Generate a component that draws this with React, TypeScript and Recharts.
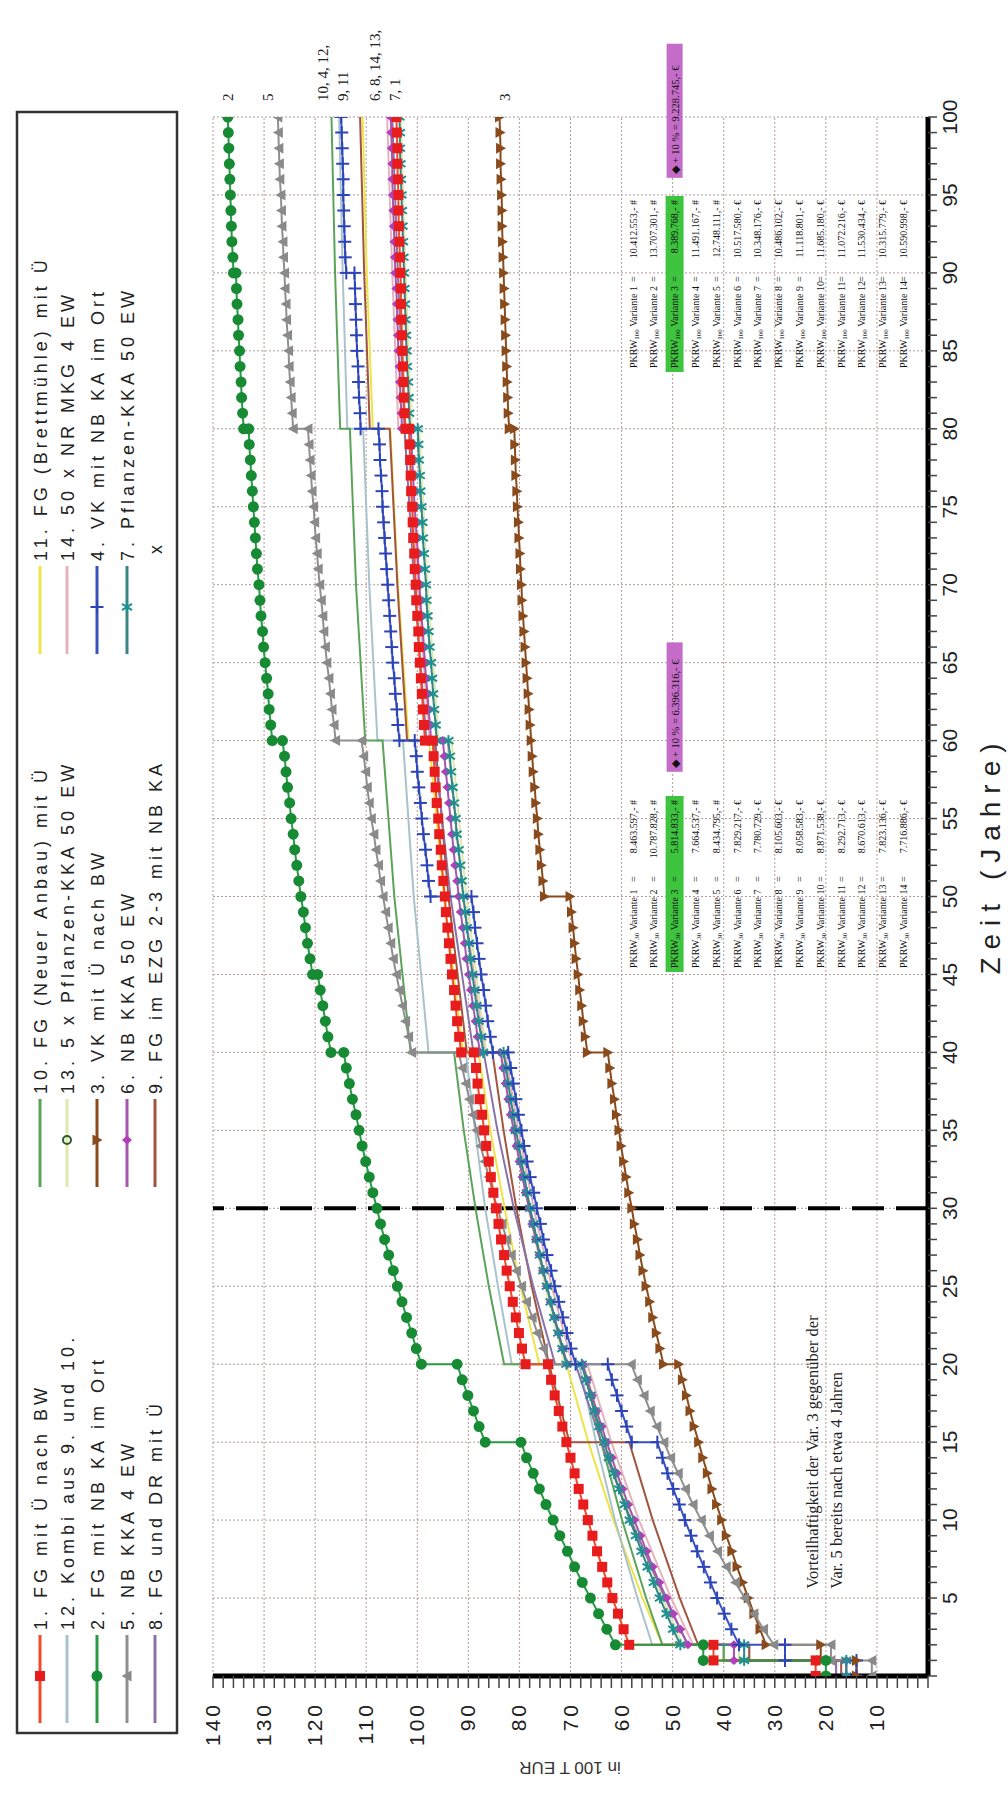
import React from 'react'
import { LineChart, Line, XAxis, YAxis, CartesianGrid, ReferenceLine } from 'recharts'

// chart is laid out landscape and turned by -90deg into the portrait page
const W = 1798
const H = 1008
const PLOT_L = 122
const PLOT_R = 1681
const PLOT_T = 213
const PLOT_B = 928

const YEAR_TICKS = Array.from({ length: 101 }, (_, i) => i)
const VALUE_TICKS = Array.from({ length: 71 }, (_, i) => i * 2)

type Pt = [number, number]
type Yearly = (number | [number, number])[]

// cumulative costs in 100 T EUR
// yearly lists: index = year, a pair = value before / after a reinvestment step in that year
const y1: Yearly = [22, [22, 42], [42, 58.5], 59.6, 60.7, 61.8, 62.8, 63.8, 64.8, 65.7, 66.6, 67.5, 68.4, 69.2, 70.0, 70.8, 71.6, 72.3, 73.1, 73.8, [74.4, 78.8], 79.5, 80.1, 80.7, 81.3, 81.9, 82.5, 83.0, 83.6, 84.1, 84.6, 85.1, 85.6, 86.0, 86.5, 86.9, 87.3, 87.8, 88.2, 88.5, [88.9, 91.4], 91.8, 92.2, 92.5, 92.8, 93.2, 93.5, 93.8, 94.1, 94.4, 94.6, 94.9, 95.2, 95.4, 95.7, 95.9, 96.2, 96.4, 96.6, 96.8, [97.0, 98.5], 98.7, 98.9, 99.1, 99.3, 99.5, 99.7, 99.8, 100.0, 100.2, 100.3, 100.5, 100.6, 100.8, 100.9, 101.0, 101.2, 101.3, 101.4, 101.5, [101.6, 102.3], 102.5, 102.6, 102.7, 102.8, 102.9, 103.0, 103.1, 103.2, 103.2, 103.3, 103.4, 103.5, 103.6, 103.7, 103.7, 103.8, 103.9, 103.9, 104.0, 104.1]
const y2: Yearly = [20, [20, 44], [44, 61.2], 62.9, 64.5, 66.1, 67.7, 69.2, 70.6, 72.1, 73.4, 74.8, 76.1, 77.3, 78.6, [79.7, 86.7], 87.9, 89.0, 90.1, 91.2, [92.2, 99.2], 100.2, 101.1, 102.1, 103.0, 103.9, 104.7, 105.6, 106.4, 107.2, 107.9, 108.7, 109.4, 110.1, 110.8, 111.4, 112.0, 112.7, 113.3, 113.9, [114.4, 116.9], 117.5, 118.0, 118.5, 119.0, [119.5, 120.5], 121.0, 121.5, 121.9, 122.3, 122.8, 123.2, 123.6, 124.0, 124.3, 124.7, 125.0, 125.4, 125.7, 126.0, [126.4, 128.4], 128.7, 129.0, 129.2, 129.5, 129.8, 130.1, 130.3, 130.6, 130.8, 131.0, 131.3, 131.5, 131.7, 131.9, 132.1, 132.3, 132.5, 132.7, 132.9, [133.0, 134.0], 134.2, 134.4, 134.5, 134.7, 134.8, 135.0, 135.1, 135.3, 135.4, [135.5, 136.0], 136.1, 136.3, 136.4, 136.5, 136.6, 136.7, 136.8, 136.9, 137.0, 137.1]
const y3: Yearly = [14, [14, 21], [21, 31.7], 32.9, 34.1, 35.2, 36.3, 37.4, 38.4, 39.5, 40.4, 41.4, 42.3, 43.2, 44.1, 44.9, 45.8, 46.6, 47.3, 48.1, [48.8, 51.8], 52.5, 53.2, 53.9, 54.5, 55.2, 55.8, 56.4, 56.9, 57.5, 58.0, 58.6, 59.1, 59.6, 60.1, 60.5, 61.0, 61.4, 61.9, 62.3, [62.7, 66.7], 67.1, 67.5, 67.8, 68.2, 68.5, 68.9, 69.2, 69.5, 69.8, [70.1, 75.1], 75.4, 75.7, 76.0, 76.3, 76.5, 76.8, 77.0, 77.3, 77.5, 77.7, 77.9, 78.1, 78.3, 78.5, 78.7, 78.9, 79.1, 79.3, 79.5, 79.6, 79.8, 79.9, 80.1, 80.2, 80.4, 80.5, 80.7, 80.8, 80.9, [81.0, 82.0], 82.2, 82.3, 82.4, 82.5, 82.6, 82.7, 82.8, 82.9, 83.0, 83.1, 83.2, 83.3, 83.4, 83.4, 83.5, 83.6, 83.7, 83.7, 83.8, 83.9]
const y4: Yearly = [14, [14, 28], [28, 37], 38.5, 39.9, 41.3, 42.6, 43.9, 45.2, 46.4, 47.6, 48.7, 49.9, 51.0, 52.0, [53.0, 58.0], 59.0, 60.0, 60.9, 61.9, [62.7, 69.0], 69.9, 70.7, 71.5, 72.3, 73.1, 73.8, 74.6, 75.3, 75.9, 76.6, 77.2, 77.9, 78.5, 79.1, 79.6, 80.2, 80.7, 81.2, 81.7, [82.2, 85.2], 85.7, 86.2, 86.6, 87.0, 87.5, 87.9, 88.3, 88.7, 89.0, [89.4, 97.4], 97.8, 98.1, 98.4, 98.8, 99.1, 99.4, 99.7, 100.0, 100.2, [100.5, 103.5], 103.8, 104.0, 104.3, 104.5, 104.8, 105.0, 105.2, 105.4, 105.6, 105.8, 106.0, 106.2, 106.4, 106.6, 106.8, 106.9, 107.1, 107.3, 107.4, [107.6, 111.1], 111.2, 111.4, 111.5, 111.6, 111.8, 111.9, 112.0, 112.1, 112.2, [112.3, 113.9], 114.1, 114.2, 114.3, 114.4, 114.5, 114.5, 114.6, 114.7, 114.8, 114.9]
const y5: Yearly = [11, [11, 19], [19, 30.2], 32.2, 34.1, 35.9, 37.7, 39.5, 41.2, 42.8, 44.4, 46.0, 47.5, 48.9, 50.4, 51.7, 53.1, 54.4, 55.6, 56.9, [58.1, 74.2], 75.3, 76.5, 77.5, 78.6, 79.6, 80.6, 81.6, 82.5, 83.4, 84.3, 85.2, 86.0, 86.8, 87.6, 88.4, 89.1, 89.8, 90.5, 91.2, [91.9, 101.1], 101.7, 102.3, 102.9, 103.5, 104.1, 104.7, 105.2, 105.7, 106.2, 106.7, 107.2, 107.6, 108.1, 108.5, 109.0, 109.4, 109.8, 110.1, 110.5, [110.9, 116.0], 116.3, 116.7, 117.0, 117.3, 117.7, 118.0, 118.3, 118.5, 118.8, 119.1, 119.4, 119.6, 119.9, 120.1, 120.3, 120.6, 120.8, 121.0, 121.2, [121.4, 124.3], 124.5, 124.7, 124.9, 125.1, 125.2, 125.4, 125.6, 125.7, 125.9, 126.0, 126.2, 126.3, 126.5, 126.6, 126.7, 126.9, 127.0, 127.1, 127.2, 127.3]
const y6: Yearly = [16, [16, 38], [38, 47], 48.5, 49.9, 51.2, 52.6, 53.9, 55.1, 56.3, 57.5, 58.7, 59.8, 60.9, 61.9, 62.9, 63.9, 64.9, 65.8, 66.7, [67.6, 70.6], 71.5, 72.3, 73.1, 73.9, 74.6, 75.4, 76.1, 76.8, 77.5, 78.1, 78.8, 79.4, 80.0, 80.6, 81.1, 81.7, 82.2, 82.7, 83.2, [83.7, 87.7], 88.2, 88.6, 89.1, 89.5, 89.9, 90.4, 90.7, 91.1, 91.5, 91.9, 92.2, 92.6, 92.9, 93.2, 93.5, 93.8, 94.1, 94.4, 94.7, [95.0, 97.3], 97.5, 97.8, 98.0, 98.3, 98.5, 98.7, 98.9, 99.2, 99.4, 99.6, 99.8, 99.9, 100.1, 100.3, 100.5, 100.7, 100.8, 101.0, 101.1, [101.3, 103.0], 103.1, 103.3, 103.4, 103.5, 103.7, 103.8, 103.9, 104.0, 104.1, 104.3, 104.4, 104.5, 104.6, 104.7, 104.8, 104.9, 104.9, 105.0, 105.1, 105.2]
const y7: Yearly = [16, [16, 36], [36, 48.5], 49.9, 51.2, 52.5, 53.7, 54.9, 56.1, 57.2, 58.4, 59.4, 60.5, 61.5, 62.5, 63.4, 64.4, 65.3, 66.1, 67.0, [67.8, 70.8], 71.6, 72.4, 73.2, 73.9, 74.6, 75.3, 76.0, 76.6, 77.2, 77.9, 78.5, 79.0, 79.6, 80.1, 80.7, 81.2, 81.7, 82.2, 82.6, [83.1, 87.1], 87.5, 88.0, 88.4, 88.8, 89.2, 89.6, 89.9, 90.3, 90.6, 91.0, 91.3, 91.6, 91.9, 92.3, 92.5, 92.8, 93.1, 93.4, 93.6, [93.9, 96.2], 96.4, 96.7, 96.9, 97.1, 97.3, 97.6, 97.8, 98.0, 98.2, 98.3, 98.5, 98.7, 98.9, 99.0, 99.2, 99.4, 99.5, 99.7, 99.8, [99.9, 101.4], 101.6, 101.7, 101.8, 102.0, 102.1, 102.2, 102.3, 102.4, 102.5, 102.6, 102.7, 102.8, 102.9, 103.0, 103.1, 103.2, 103.3, 103.4, 103.4, 103.5]

// plain lines: [year, value], two entries on one year = step
const s8: Pt[] = [[0, 18], [1, 18], [1, 38], [2, 38], [2, 47], [5, 51.5], [10, 58.2], [15, 64.0], [20, 69.0], [20, 73.0], [25, 77.3], [30, 81.1], [35, 84.3], [40, 87.0], [40, 89.0], [50, 93.5], [60, 96.8], [60, 98.2], [70, 100.6], [80, 102.5], [90, 103.8], [100, 104.9]]
const s9: Pt[] = [[0, 17], [1, 17], [1, 35], [2, 35], [2, 45], [5, 48.6], [10, 53.9], [15, 58.5], [15, 70.2], [20, 74.2], [25, 77.6], [30, 80.6], [35, 83.1], [40, 85.3], [40, 90.3], [50, 93.9], [60, 96.5], [60, 102.0], [70, 103.9], [80, 105.4], [80, 109.3], [90, 110.4], [100, 111.2]]
const s10: Pt[] = [[0, 18], [1, 18], [1, 40], [2, 40], [2, 52], [5, 55.2], [10, 59.9], [15, 64.0], [20, 67.6], [20, 83.0], [25, 86.0], [30, 88.6], [35, 90.9], [40, 92.8], [40, 101.3], [50, 104.5], [60, 106.8], [60, 110.2], [70, 112.0], [80, 113.2], [80, 115.1], [90, 116.1], [100, 116.8]]
const s11: Pt[] = [[0, 18], [1, 18], [1, 40], [2, 40], [2, 52], [5, 55.9], [10, 61.6], [15, 66.5], [20, 70.8], [20, 76.1], [25, 79.8], [30, 82.9], [35, 85.7], [40, 88.0], [40, 91.0], [50, 94.8], [60, 97.7], [60, 101.7], [70, 103.8], [80, 105.3], [80, 108.7], [90, 109.9], [100, 110.7]]
const s12: Pt[] = [[0, 18], [1, 18], [1, 40], [2, 40], [2, 54], [5, 56.9], [10, 61.3], [15, 65.0], [20, 68.3], [20, 81.5], [25, 84.2], [30, 86.7], [35, 88.7], [40, 90.5], [40, 97.8], [50, 100.7], [60, 102.8], [60, 107.8], [70, 109.4], [80, 110.6], [80, 113.7], [90, 114.6], [100, 115.3]]
const s13: Pt[] = [[0, 16], [1, 16], [1, 37], [2, 37], [2, 48], [5, 52.0], [10, 57.9], [15, 63.0], [20, 67.4], [20, 71.1], [25, 75.0], [30, 78.2], [35, 81.1], [40, 83.5], [40, 86.5], [50, 90.4], [60, 93.3], [60, 95.8], [70, 98.0], [80, 99.6], [80, 101.1], [90, 102.3], [100, 103.2]]
const s14: Pt[] = [[0, 16], [1, 16], [1, 35], [2, 35], [2, 46], [5, 50.3], [10, 56.6], [15, 62.0], [20, 66.7], [20, 69.6], [25, 73.7], [30, 77.2], [35, 80.2], [40, 82.8], [40, 86.8], [50, 91.0], [60, 94.1], [60, 97.6], [70, 99.9], [80, 101.7], [80, 103.7], [90, 104.9], [100, 105.9]]

const pkrw30 = ['8.463.597', '10.787.828', '5.814.833', '7.664.537', '8.434.795', '7.829.217', '7.780.729', '8.105.603', '8.058.583', '8.871.538', '8.292.713', '8.670.613', '7.823.136', '7.716.886']
const pkrw100 = ['10.412.553', '13.707.301', '8.389.768', '11.491.167', '12.748.111', '10.517.580', '10.348.176', '10.486.102', '11.118.801', '11.685.180', '11.072.216', '11.530.434', '10.315.779', '10.590.998']
const plus30 = '6.396.316'
const plus100 = '9.228.745'

const endLabels = ['2', '5', '10, 4, 12,', '9, 11', '6, 8, 14, 13,', '7, 1', '3']
const endLabelValues = [137.1, 129.2, 118.4, 114.5, 108.3, 104.4, 82.8]

const fromYearly = (vals: Yearly): Pt[] =>
  vals.flatMap((v, year) => (Array.isArray(v) ? ([[year, v[0]], [year, v[1]]] as Pt[]) : ([[year, v]] as Pt[])))

type Marker = 'square' | 'circle' | 'triUp' | 'triDown' | 'diamond' | 'plus' | 'star' | 'ring' | 'none'

interface Series {
  key: string
  label: string
  color: string
  markColor?: string
  width: number
  marker: Marker
  plotMarks: boolean
  data: Pt[]
}

const series: Series[] = [
  { key: 's1', label: '1. FG mit Ü nach BW', color: '#ee4a2a', markColor: '#e81c1c', width: 2, marker: 'square', plotMarks: true, data: fromYearly(y1) },
  { key: 's12', label: '12. Kombi aus 9. und 10.', color: '#a9c3cc', width: 2, marker: 'none', plotMarks: false, data: s12 },
  { key: 's2', label: '2. FG mit NB KA im Ort', color: '#2a9a44', markColor: '#178a34', width: 2, marker: 'circle', plotMarks: true, data: fromYearly(y2) },
  { key: 's5', label: '5. NB KKA 4 EW', color: '#8f8f8f', markColor: '#8a8a8a', width: 2, marker: 'triUp', plotMarks: true, data: fromYearly(y5) },
  { key: 's8', label: '8. FG und DR mit Ü', color: '#8a72a8', width: 2, marker: 'none', plotMarks: false, data: s8 },
  { key: 's10', label: '10. FG (Neuer Anbau) mit Ü', color: '#5ba35b', width: 2, marker: 'none', plotMarks: false, data: s10 },
  { key: 's13', label: '13. 5 x Pflanzen-KKA 50 EW', color: '#dfe9b0', markColor: '#2b5a2b', width: 2, marker: 'ring', plotMarks: false, data: s13 },
  { key: 's3', label: '3. VK mit Ü nach BW', color: '#8a4b1c', markColor: '#8a4b1c', width: 2, marker: 'triDown', plotMarks: true, data: fromYearly(y3) },
  { key: 's6', label: '6. NB KKA 50 EW', color: '#a855b0', markColor: '#b040b8', width: 2, marker: 'diamond', plotMarks: true, data: fromYearly(y6) },
  { key: 's9', label: '9. FG im EZG 2-3 mit NB KA', color: '#a0553e', width: 2, marker: 'none', plotMarks: false, data: s9 },
  { key: 's11', label: '11. FG (Brettmühle) mit Ü', color: '#eee44a', width: 2, marker: 'none', plotMarks: false, data: s11 },
  { key: 's14', label: '14. 50 x NR MKG 4 EW', color: '#e6b2bd', width: 2, marker: 'none', plotMarks: false, data: s14 },
  { key: 's4', label: '4. VK mit NB KA im Ort', color: '#3a52c0', markColor: '#2c44b8', width: 2, marker: 'plus', plotMarks: true, data: fromYearly(y4) },
  { key: 's7', label: '7. Pflanzen-KKA 50 EW', color: '#3a8484', markColor: '#1f9090', width: 2, marker: 'star', plotMarks: true, data: fromYearly(y7) },
]

// plain lines first, marked series on top
const drawOrder = ['s13', 's14', 's11', 's12', 's10', 's9', 's8', 's6', 's7', 's4', 's3', 's5', 's1', 's2']

const toRows = (pts: Pt[]) => pts.map(([x, y]) => ({ x, y }))

function MarkShape({ kind, cx, cy, color }: { kind: Marker; cx: number; cy: number; color: string }) {
  switch (kind) {
    case 'square':
      return <rect x={cx - 5} y={cy - 5} width={10} height={10} fill={color} />
    case 'circle':
      return <circle cx={cx} cy={cy} r={5.5} fill={color} />
    case 'ring':
      return <circle cx={cx} cy={cy} r={4} fill="none" stroke={color} strokeWidth={2} />
    case 'triUp':
      return <path d={`M${cx},${cy - 5.5} L${cx + 5.5},${cy + 4.5} L${cx - 5.5},${cy + 4.5}Z`} fill={color} />
    case 'triDown':
      return <path d={`M${cx},${cy + 5.5} L${cx + 5.5},${cy - 4.5} L${cx - 5.5},${cy - 4.5}Z`} fill={color} />
    case 'diamond':
      return <path d={`M${cx},${cy - 5} L${cx + 4.5},${cy} L${cx},${cy + 5} L${cx - 4.5},${cy}Z`} fill={color} />
    case 'plus':
      return (
        <g stroke={color} strokeWidth={2}>
          <line x1={cx - 6.5} y1={cy} x2={cx + 6.5} y2={cy} />
          <line x1={cx} y1={cy - 6.5} x2={cx} y2={cy + 6.5} />
        </g>
      )
    case 'star':
      return (
        <g stroke={color} strokeWidth={2}>
          <line x1={cx - 5.5} y1={cy} x2={cx + 5.5} y2={cy} />
          <line x1={cx - 3.2} y1={cy - 5} x2={cx + 3.2} y2={cy + 5} />
          <line x1={cx - 3.2} y1={cy + 5} x2={cx + 3.2} y2={cy - 5} />
        </g>
      )
    default:
      return null
  }
}

const dotFor = (s: Series) =>
  !s.plotMarks
    ? false
    : (p: any) => <MarkShape key={`${s.key}-${p.index}`} kind={s.marker} cx={p.cx} cy={p.cy} color={s.markColor || s.color} />

const YearTick = (p: any) => {
  const v = p.payload.value
  if (v === 0 || v % 5 !== 0) return <g />
  return (
    <text x={p.x} y={p.y} dy={8} textAnchor="middle" fontSize={21} fill="#222" fontFamily="'Liberation Sans', Arial, sans-serif">
      {v}
    </text>
  )
}

const ValueTick = (p: any) => {
  const v = p.payload.value
  if (v === 0 || v % 10 !== 0) return <g />
  return (
    <text x={p.x} y={p.y} dy={7} textAnchor="end" fontSize={21} letterSpacing={3} fill="#222" fontFamily="'Liberation Sans', Arial, sans-serif">
      {v}
    </text>
  )
}

const px = (year: number) => PLOT_L + (year / 100) * (PLOT_R - PLOT_L)
const py = (value: number) => PLOT_B - (value / 140) * (PLOT_B - PLOT_T)

const legendCols = [75, 611, 1144]
const legendRows = [40, 67, 97, 127, 155]

function LegendBox() {
  return (
    <g fontFamily="'Liberation Sans', Arial, sans-serif">
      <rect x={65} y={17} width={1621} height={160} fill="#fff" stroke="#333" strokeWidth={2.5} />
      {series.map((s, i) => {
        const x0 = legendCols[Math.floor(i / 5)]
        const y = legendRows[i % 5]
        return (
          <g key={s.key}>
            <line x1={x0} y1={y} x2={x0 + 88} y2={y} stroke={s.color} strokeWidth={3} />
            <MarkShape kind={s.marker} cx={x0 + 47} cy={y} color={s.markColor || s.color} />
            <text x={x0 + 93} y={y + 7} fontSize={18} letterSpacing={4} fill="#222">
              {s.label}
            </text>
          </g>
        )
      })}
      <text x={legendCols[2] + 100} y={legendRows[4] + 7} fontSize={18} fill="#222">
        x
      </text>
    </g>
  )
}

const rowY = (i: number) => 633 + i * 20.8

function PkrwTable({ left, sub, values, plus, plusLeft, plusRight }: { left: number; sub: string; values: string[]; plus: string; plusLeft: number; plusRight: number }) {
  return (
    <g fontFamily="'Liberation Serif', 'Times New Roman', serif" fontSize={10} fill="#111">
      <rect x={left - 4} y={rowY(2) - 9} width={176} height={18} fill="#3ec43e" />
      <rect x={plusLeft} y={rowY(2) - 8} width={plusRight - plusLeft} height={16} fill="#c46cc8" />
      <text x={plusLeft + 4} y={rowY(2) + 4} fontSize={10.5}>
        ◆ + 10 % = {plus},- €
      </text>
      {values.map((v, i) => (
        <g key={i}>
          <text x={left} y={rowY(i) + 3.5}>
            PKRW<tspan fontSize={7} dy={2}>{sub}</tspan>
            <tspan dy={-2}> Variante {i + 1}</tspan>
          </text>
          <text x={left + 86} y={rowY(i) + 3.5}>=</text>
          <text x={left + 168} y={rowY(i) + 3.5} textAnchor="end">
            {v},- {i < 5 ? '#' : '€'}
          </text>
        </g>
      ))}
    </g>
  )
}

function Overlay() {
  return (
    <svg width={W} height={H} style={{ position: 'absolute', left: 0, top: 0, pointerEvents: 'none' }}>
      <LegendBox />
      <PkrwTable left={830} sub="30" values={pkrw30} plus={plus30} plusLeft={px(58)} plusRight={px(66.3)} />
      <PkrwTable left={1430} sub="100" values={pkrw100} plus={plus100} plusLeft={px(96.1)} plusRight={px(104.7)} />
      <g fontFamily="'Liberation Serif', 'Times New Roman', serif" fontSize={15} fill="#222">
        {endLabels.map((t, i) => (
          <text key={t} x={PLOT_R + 16} y={py(endLabelValues[i]) + 5}>
            {t}
          </text>
        ))}
      </g>
      <g fontFamily="'Liberation Serif', 'Times New Roman', serif" fontSize={16.5} fill="#222">
        <text x={px(5.6)} y={py(22.5) + 5}>Vorteilhaftigkeit der Var. 3 gegenüber der</text>
        <text x={px(5.6)} y={py(17.8) + 5}>Var. 5 bereits nach etwa 4 Jahren</text>
      </g>
      <text x={943} y={1000} textAnchor="middle" fontSize={28} letterSpacing={8} fill="#222" fontFamily="'Liberation Sans', Arial, sans-serif">
        Zeit (Jahre)
      </text>
      <text transform="translate(36,570) rotate(-90)" textAnchor="middle" fontSize={17} fill="#333" fontFamily="'Liberation Sans', Arial, sans-serif">
        in 100 T EUR
      </text>
    </svg>
  )
}

export default function App() {
  const byKey = Object.fromEntries(series.map((s) => [s.key, s]))
  return (
    <div style={{ position: 'absolute', left: 0, top: 0, width: 1008, height: 1798, overflow: 'hidden', background: '#fff' }}>
      <div
        style={{
          position: 'absolute',
          left: 0,
          top: 0,
          width: W,
          height: H,
          transformOrigin: '0 0',
          transform: `translateY(${W}px) rotate(-90deg)`,
        }}
      >
        <LineChart width={W} height={H} margin={{ top: PLOT_T, right: W - PLOT_R, bottom: 0, left: 0 }}>
          <CartesianGrid
            stroke="#b59a9a"
            strokeDasharray="2 2"
            verticalPoints={[5, 10, 15, 20, 25, 30, 35, 40, 45, 50, 55, 60, 65, 70, 75, 80, 85, 90, 95, 100].map(px)}
            horizontalPoints={[10, 20, 30, 40, 50, 60, 70, 80, 90, 100, 110, 120, 130, 140].map(py)}
          />
          <XAxis
            dataKey="x"
            type="number"
            domain={[0, 100]}
            ticks={YEAR_TICKS}
            interval={0}
            height={H - PLOT_B}
            axisLine={{ stroke: '#000', strokeWidth: 5 }}
            tickLine={{ stroke: '#444', strokeWidth: 1.5 }}
            tickSize={9}
            tickMargin={12}
            tick={YearTick}
            allowDataOverflow
          />
          <YAxis
            dataKey="y"
            type="number"
            domain={[0, 140]}
            ticks={VALUE_TICKS}
            interval={0}
            width={PLOT_L}
            axisLine={{ stroke: '#000', strokeWidth: 5 }}
            tickLine={{ stroke: '#444', strokeWidth: 1.5 }}
            tickSize={12}
            tickMargin={14}
            tick={ValueTick}
            allowDataOverflow
          />
          <ReferenceLine x={30} stroke="#000" strokeWidth={4} strokeDasharray="32 12" />
          {drawOrder.map((k) => {
            const s = byKey[k]
            return (
              <Line
                key={k}
                data={toRows(s.data)}
                dataKey="y"
                type="linear"
                stroke={s.color}
                strokeWidth={s.width}
                dot={dotFor(s)}
                activeDot={false}
                isAnimationActive={false}
              />
            )
          })}
        </LineChart>
        <Overlay />
      </div>
    </div>
  )
}
